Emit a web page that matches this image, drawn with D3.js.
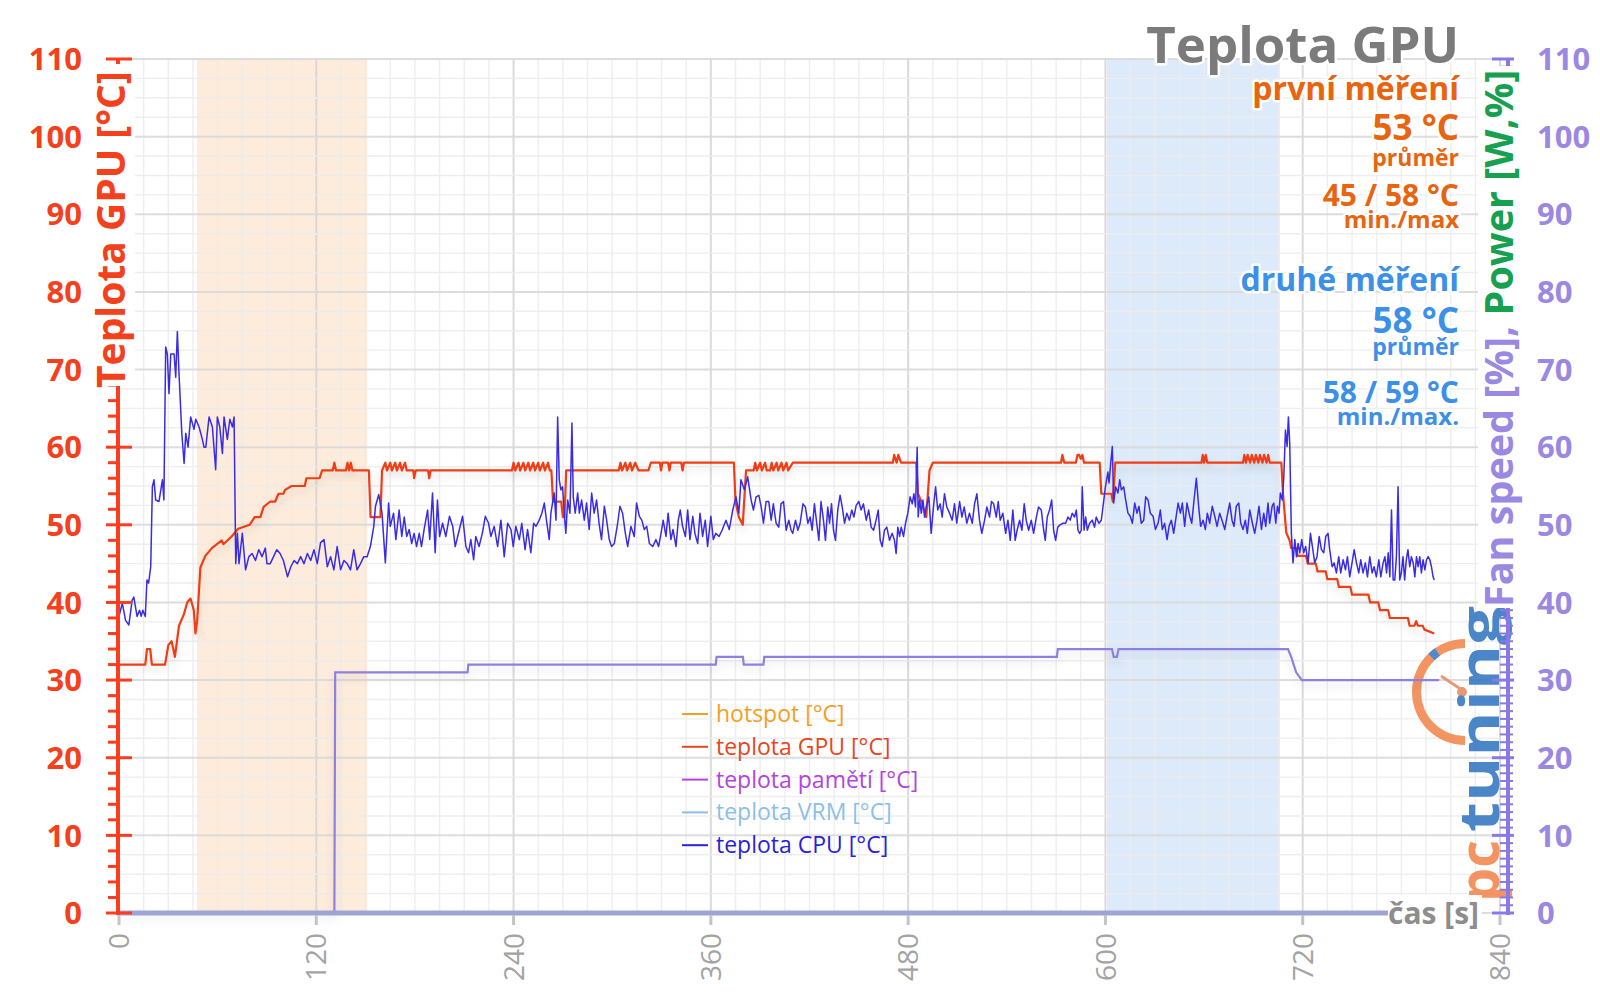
<!DOCTYPE html>
<html><head><meta charset="utf-8">
<script src="https://cdn.jsdelivr.net/npm/d3@7"></script>
<style>
html,body{margin:0;padding:0;background:#fff;}
text{font-family:"Open Sans","Noto Sans",sans-serif;}
.halo{paint-order:stroke;stroke:#fff;stroke-width:5px;stroke-linejoin:round;}
</style></head>
<body><svg id="c" width="1600" height="1008"></svg>
<script>
// ---------------- DATA ----------------
const xTicks = [0,120,240,360,480,600,720,840];
const yTicks = [0,10,20,30,40,50,60,70,80,90,100,110];
const bandFirst = [47.5,151];   // první měření (s)
const bandSecond = [601,706];   // druhé měření (s)

// teplota GPU [°C]  [time s, value]
const gpuTemp = [[0,32],[16,32],[17,34],[19,34],[20,32],[28,32],[30,34.5],[32,35],[34,33],[36.5,37],[39.5,38.5],[41.5,40],[43.5,40.5],[45.5,39],[46.5,36],[47.5,37.5],[49.5,44.5],[52.5,46],[56.5,47],[62.5,48],[63.5,47.5],[68.5,48.5],[72.5,49.5],[79.5,50],[82.5,51],[86,51],[88,52.3],[92,53],[95,53],[97,54],[100,54],[101,54.5],[105,55],[113,55],[114,56],[122,56],[123.5,57],[130,57],[131,58],[132,57],[138,57],[139,58],[140,57],[141,58],[142,57],[152,57],[153,51],[159,51],[160,57],[162,58],[163,57],[165,58],[166,57],[168,58],[169,57],[171,58],[172,57],[174,58],[175,57],[179,57],[179.5,56],[180.5,57],[188,57],[188.7,56],[189.5,57],[239,57],[240,58],[241,57],[243,58],[244,57],[246,58],[247,57],[249,58],[250,57],[252,58],[253,57],[255,58],[256,57],[258,58],[259,57],[261,58],[262,57],[263,57],[264,53],[269,53],[270,51],[271,51],[272,57],[304,57],[305,58],[306,57],[308,58],[309,57],[311,58],[312,57],[314,58],[316,57],[322,57],[323.5,58],[329,58],[329.7,57],[330.5,58],[334,58],[334.8,57],[335.6,58],[342,58],[342.8,57],[343.6,58],[374,58],[375,53],[377,51],[379.4,50],[381.4,57],[386,57],[387,58],[388,57],[390,58],[391,57],[393,58],[394,57],[396,57],[397,58],[398,57],[400,58],[401,57],[403,58],[404,57],[406,58],[407,57],[409.8,58],[470.7,58],[471.5,59],[473,58],[474,59],[475.7,58],[484.9,58],[486,54],[488,53],[491,51],[493,57],[495,58],[573,58],[573.8,59],[575,58],[582,58],[583,59],[584,59],[585,58.5],[586,59],[587,58],[596.5,58],[597.5,54],[603.6,54],[604.5,53],[606,58],[658.4,58],[659.2,59],[660,58],[661,59],[662,58],[683.7,58],[684.5,59],[685.5,58],[686.5,59],[688,58],[689,59],[690.5,58],[691.5,59],[693,58],[694,59],[695.5,58],[696.5,59],[698,58],[699,59],[700,58],[707,58],[708,54],[710,49],[712,48],[713,47],[716,47],[717,46],[722,46],[723,45],[728,45],[729,44],[734,44],[735,43],[741,43],[742,42],[749,42],[750,41],[760,41],[761,40],[766,40],[767,39],[772,39],[773,38],[784,38],[785,37],[788,37],[789,37.6],[790,37],[793,37],[794,36.5],[800,36]];

// teplota CPU [°C]  [time s, value]
const cpuTemp = [[0,38.2],[2,39.9],[4,37.7],[6,37.1],[8,40.3],[9,40.7],[11,38.2],[12.5,39],[13.5,38.2],[14.5,39],[16,38.2],[17,42.9],[18,42.5],[19.3,44.6],[20.3,54.9],[21.3,55.8],[22.3,53.2],[24.3,53],[26.4,55.8],[27.3,53.2],[28.4,72.9],[29.4,72],[30.4,66.9],[31.5,72],[33.5,72],[34.5,69],[35.5,74.9],[36.5,69.5],[38.2,61.8],[39.6,57.9],[40.6,61.8],[42,60],[43.6,63.9],[45.6,62.3],[46.7,63.6],[48.7,62.6],[50.7,61],[51.7,60],[52.8,60],[54.8,63.9],[56.8,62.6],[58.8,57.1],[59.8,63.9],[61.3,62.6],[62.9,59.2],[63.9,63.9],[65.9,61],[67.4,63.6],[69,62.6],[70,63.9],[71,45],[72,48.9],[73,45],[75,48.9],[77,44.2],[79,45.9],[81,46.3],[83,45.4],[85,46.8],[87,45.9],[89,47],[90,45],[92,45],[94,45.9],[96,46.8],[98,46.3],[100,45.4],[102.5,43.3],[104.5,44.6],[106.5,45.4],[108.5,45],[110.5,45.9],[112.5,45],[114.6,46.3],[116.6,45.4],[118.6,46.8],[120.6,45],[122.6,47.7],[124.7,48.1],[126.7,44.6],[128.7,45.9],[130.7,44.2],[132.7,47.2],[134.8,44.2],[136.8,45.4],[138.8,45],[140.8,44.2],[142.8,46.8],[144.8,44.2],[146.9,45],[148.9,45.9],[150.9,45.9],[152.9,47.2],[154.9,49.7],[156,52.4],[158,53.9],[160,51.5],[162,45.1],[164,52.8],[165,49.8],[167,51.5],[168.4,48.1],[170.4,51.9],[172,48.5],[173.5,51],[175,48.5],[176.5,49.4],[178,47.6],[179.5,48.9],[181,47.2],[182.6,48.9],[184,47.2],[185.6,49.4],[187.7,51.9],[189,48.1],[190.7,54.1],[192.3,46.4],[193.7,53.2],[195,48.5],[196.8,50.2],[198.8,48.5],[201,51.1],[203,49.8],[204.5,47.2],[206,48.5],[209,51.1],[211,47.2],[212.6,46.4],[214,48.1],[215.7,45.5],[217,48.5],[219,47.2],[221,48.9],[222.8,51.1],[224.8,50.2],[226.2,48.5],[228.2,49.8],[230.3,47.2],[232.3,50.6],[234.3,45.9],[236.4,50.2],[238.4,49.4],[239.8,47.2],[241.4,49.8],[243.5,48.1],[245,50.2],[247,46.8],[248.5,49.4],[250.5,46.4],[252.2,50.2],[253.6,49.8],[255.6,50.6],[257.2,51.5],[258.7,52.8],[260,50.6],[261.7,48.1],[262.7,51.5],[264.7,54.1],[265.8,50.6],[266.8,63.9],[267.8,55.8],[268.8,54.5],[269.8,54.9],[270.8,51.5],[271.8,48.9],[272.9,53.2],[274.3,51.5],[275.5,63.1],[276.3,53.6],[277.5,51.5],[279,54.1],[280,51.5],[281.4,53.2],[283,50.6],[284.4,52.8],[286,49.4],[287.5,54.1],[289,51.5],[290.5,53.2],[292,50.2],[293.5,48.1],[295.2,52.4],[296.6,50.6],[298.2,48.1],[299.6,47.2],[301.3,47.6],[303.3,50.2],[304.7,52.4],[306.3,51.5],[308,48.9],[309.4,47.2],[311.4,49.8],[313.4,48.5],[314.8,52.8],[316.5,51.1],[318,50.6],[319.5,49.4],[321,49.8],[322.6,47.6],[324.6,47.2],[326.6,48.1],[328.2,47.2],[329.7,48.9],[331,50.6],[332.7,48.5],[334,51.5],[335.7,48.1],[337,49.4],[338.8,47.2],[340.2,50.6],[341.4,51.9],[342.8,49.8],[344.5,48.5],[345.9,51.9],[347.3,48.1],[349,51.1],[350.3,48.9],[352,47.6],[353.4,51.5],[355,48.5],[356.6,50.6],[358,47.2],[360,51.1],[361.5,48.1],[363,48.9],[365,48.5],[367,49.4],[369.2,50.6],[371.2,49.4],[373.3,51.9],[375.3,53.6],[377,51.5],[378.3,55.8],[380.4,54.5],[382.4,56.2],[383,55.3],[384.5,53.2],[385.9,51.9],[387.5,53.6],[389.2,53.8],[390.6,52.3],[392,50.2],[393.6,53],[395.2,53],[396.7,50.6],[398,52.7],[399.7,50.2],[401.3,49.7],[402.7,52.7],[404.2,53],[405.8,49.3],[407.4,50.6],[408.8,49.3],[409.8,48.9],[411.5,50.6],[412.9,49.3],[414.3,50.2],[416,52.7],[417.5,52.3],[419,50.2],[420.4,51],[421.6,49.3],[423,52.7],[424.4,50.2],[425.7,48],[427,53],[428.5,50.6],[429.7,48],[431.1,52.3],[432.2,50.2],[433.4,52.7],[434.6,49.3],[435.8,48],[437.2,51.9],[438.6,53.8],[439.9,52.3],[441.3,50.2],[442.7,51.5],[444.3,50.6],[445.7,51.9],[447,51],[448.4,52.5],[450,53],[451.4,51.9],[452.8,52.7],[454.5,50.6],[456,51.9],[457.5,49.7],[459,49.3],[460.5,50.6],[461.8,51.9],[463,48],[464.2,47.2],[465.6,49.3],[467,49.7],[468.7,48],[470.3,48.9],[471.7,48],[472.7,46.3],[473.7,49.7],[474.8,48.5],[475.8,49.7],[477.2,48.5],[478.4,50.2],[479.8,51.5],[481.2,53.6],[482.5,52.7],[483.5,54],[484.5,52.3],[485.5,60],[486.1,51],[487,53.2],[488,51.5],[489,53.2],[490,51],[491,52.3],[492.6,53.6],[494,48.9],[495.4,52.3],[496.7,54.9],[498,51.9],[499.5,52.7],[500.7,51],[502.1,54],[503.5,52.3],[505.2,51.5],[506.8,50.6],[508.2,52.7],[509.6,50.2],[511.3,53],[512.7,51],[514.1,52.3],[515.7,50.2],[517.3,51.5],[519,50.2],[520.4,52.7],[521.8,54],[523.4,50.6],[524.8,48.9],[526.5,50.6],[527.9,52.3],[529.5,51],[530.7,53],[532,52.7],[533.6,51],[534.8,53],[536,50.6],[537.6,51.5],[539.3,48.9],[540.7,50.6],[542.1,48],[543.7,51.9],[545.1,48],[546.3,49.3],[547.8,50.6],[549.2,49.3],[550.6,52.7],[551.8,50.6],[553.3,49.3],[554.9,50.6],[556.3,48.9],[558,51],[559.3,52.3],[561,51.9],[562.2,49.7],[563.4,48],[564.6,51],[566,51.9],[567.3,53.2],[568.5,49.3],[569.7,48],[571,49.7],[572.5,50],[574.1,50.2],[575.8,50.2],[577.2,51],[578.6,50.6],[579.8,51.5],[581.2,51],[582.3,51.9],[583.3,49.3],[584.3,48.9],[585.3,49.3],[585.9,54.9],[587,49.3],[588,51],[589,49.3],[590.4,50.2],[592,50.6],[593.4,49.7],[594.4,51],[596,50.2],[597.5,50.6],[598.5,52.3],[600,54.9],[601.5,56.8],[602.2,55.4],[603.2,57.9],[604.2,60.1],[605,52.8],[606.2,54.9],[607.6,54.1],[608.7,55.8],[609.7,54.5],[611.1,54.9],[612.3,53.2],[613.7,51.5],[615.1,51.1],[616.4,50.2],[617.8,52.8],[619.2,51.5],[620.4,52.4],[621.8,50.2],[623.3,50.6],[624.5,53.6],[625.9,53.2],[627.3,51.5],[629,51.1],[630.4,49.4],[632,50.2],[633.4,51.9],[634.6,49.4],[636,50.2],[637.5,48.1],[638.7,49.8],[640.1,50.6],[641.5,48.9],[642.7,50.6],[644.2,52.8],[645.6,51.5],[646.8,52.8],[648.2,49.8],[649.6,52.8],[651.3,51.1],[652.5,50.2],[653.9,53.2],[655.3,56],[656.7,52.4],[657.9,49.8],[659.4,50.6],[660.8,49.4],[662,51.5],[663.4,50.2],[665,52.4],[666.5,51.1],[667.9,49.8],[669.5,51.5],[670.9,50.6],[672.6,49.4],[674,51.1],[675.6,52.8],[677,50.6],[678.2,49.8],[679.6,52.4],[681.1,52.8],[682.3,50.2],[683.7,49.4],[685.1,50.6],[686.3,48.9],[687.8,51.9],[689.4,50.2],[690.8,48.9],[692.2,50.6],[693.4,52.4],[694.9,49.4],[696.3,51.5],[697.5,49.8],[698.9,52.8],[699.9,50.2],[701.4,52.4],[702.4,52.8],[703.6,50.2],[704.6,52.4],[705.6,51.5],[706.4,54.1],[707.6,53.2],[708.5,56.2],[709.5,62.2],[710.5,60.1],[711.3,63.9],[712.1,60.5],[713.1,48.9],[714.1,45.1],[715.2,48.1],[716.2,45.9],[717.2,47.6],[718.2,46.4],[719.4,48.1],[720.6,46.4],[721.8,47.2],[723.3,45.1],[724.7,48.9],[725.9,47.2],[727.3,45.1],[728.7,45.9],[730,48.5],[731.4,46.8],[732.8,46.4],[734,48.5],[735.4,48.9],[736.4,46.8],[737.9,44.6],[739.1,45.1],[740.5,43.8],[741.9,45.9],[743.1,43.8],[744.6,45.5],[746,44.2],[747.2,45.9],[748.6,43.3],[750,45.1],[751.3,46.8],[752.7,45.1],[754.1,43.8],[755.3,45.5],[756.7,43.8],[758.1,45.1],[759.4,43.3],[760.8,45.9],[762.2,43.8],[763.4,44.6],[764.8,43.3],[766.3,45.5],[767.5,43.3],[768.9,45.1],[770,45.9],[771,43.8],[772,46.4],[773,43.3],[774,51.9],[775,42.9],[776,42.9],[777,45.9],[778,54.9],[779,42.9],[780,43.8],[781,45.9],[782,42.9],[783,45.5],[784,46.8],[785.1,44.6],[786.1,45.9],[787.2,45.1],[788.2,43.3],[789.2,45.9],[790.2,44.6],[791.2,45.9],[792.2,43.8],[793.2,45.5],[794.3,44.2],[795.3,45.5],[796.3,45.9],[797.3,45.5],[798.3,44.6],[799.3,43.3],[800,42.9]];

// Fan speed [%] (right axis)  [time s, value]
const fanSpeed = [[0,0],[131,0],[131.5,31],[212,31],[212.5,32],[363,32],[363.5,33],[379.5,33],[380,32],[392,32],[392.5,33],[570.5,33],[571,34],[604,34],[605,33],[607,33],[608,34],[711,34],[713,33],[716,31],[719.5,30],[803,30]];

const legendLabels = ["hotspot [°C]","teplota GPU [°C]","teplota pamětí [°C]","teplota VRM [°C]","teplota CPU [°C]"];
const legendColors = ["#f2a01e","#e8461e","#b444e0","#8cbfe8","#2a1ee0"];

const summaryFirst = ["první měření","53 °C","průměr","45 / 58 °C","min./max"];
const summarySecond = ["druhé měření","58 °C","průměr","58 / 59 °C","min./max."];

// ---------------- CHART ----------------
const svg = d3.select("#c");
const x = d3.scaleLinear().domain([0,840]).range([119,1500]);
const y = d3.scaleLinear().domain([0,110]).range([913,59]);
const y2 = d3.scaleLinear().domain([0,110]).range([913,59]);

const defs = svg.append("defs");
const f = defs.append("filter").attr("id","sh").attr("x","-5%").attr("y","-20%").attr("width","110%").attr("height","150%");
f.append("feDropShadow").attr("dx",0).attr("dy",5).attr("stdDeviation",4).attr("flood-color","#000").attr("flood-opacity",0.13);

// bands
svg.append("rect").attr("x",x(bandFirst[0])).attr("y",y(110)).attr("width",x(bandFirst[1])-x(bandFirst[0])).attr("height",y(0)-y(110)).attr("fill","#fdebdb");
svg.append("rect").attr("x",x(bandSecond[0])).attr("y",y(110)).attr("width",x(bandSecond[1])-x(bandSecond[0])).attr("height",y(0)-y(110)).attr("fill","#dceafa");

// grid
const g = svg.append("g");
g.selectAll(".vm").data(d3.range(0,841,15)).join("line")
 .attr("x1",d=>x(d)).attr("x2",d=>x(d)).attr("y1",y(110)).attr("y2",y(0))
 .attr("stroke",d=>d%120===0?"#d6d6d6":"#ececec").attr("stroke-width",d=>d%120===0?2:1.4).attr("stroke-opacity",0.9);
g.selectAll(".hm").data(d3.range(0,110.01,2.5)).join("line")
 .attr("x1",x(0)).attr("x2",x(840)).attr("y1",d=>y(d)).attr("y2",d=>y(d))
 .attr("stroke",d=>d%10===0?"#d9d9d9":"#ececec").attr("stroke-width",d=>d%10===0?2:1.4).attr("stroke-opacity",0.9);

// logo
const lg = svg.append("g").attr("opacity",0.92);
const cx = 1465, cy = 692;
lg.append("path").attr("transform",`translate(${cx},${cy})`)
  .attr("d", d3.arc()({innerRadius:44,outerRadius:53,startAngle:Math.PI,endAngle:2*Math.PI}))
  .attr("fill","#f28c55");
lg.append("path").attr("transform",`translate(${cx},${cy})`)
  .attr("d", d3.arc()({innerRadius:44,outerRadius:53,startAngle:5.52,endAngle:5.68}))
  .attr("fill","#3f7fc6");
lg.append("line").attr("x1",cx).attr("y1",cy).attr("x2",cx-24).attr("y2",cy-16).attr("stroke","#e8906a").attr("stroke-width",3);
lg.append("circle").attr("cx",cx-3).attr("cy",cy).attr("r",5).attr("fill","#e8906a");
lg.append("text").attr("transform","translate(1499,832) rotate(-90)").attr("font-size",56).attr("font-weight",700)
  .attr("fill","#3c7cc4").attr("textLength",226).attr("lengthAdjust","spacingAndGlyphs").text("tuning");
lg.append("text").attr("transform","translate(1499,902) rotate(-90)").attr("font-size",56).attr("font-weight",700)
  .attr("fill","#f28c55").attr("textLength",62).attr("lengthAdjust","spacingAndGlyphs").text("pc");

// series
const line = d3.line().x(d=>x(d[0])).y(d=>y(d[1]));
const line2 = d3.line().x(d=>x(d[0])).y(d=>y2(d[1]));
svg.append("path").datum(fanSpeed).attr("d",line2).attr("fill","none").attr("stroke","#8f80e0").attr("stroke-width",2.2).attr("filter","url(#sh)");
svg.append("path").datum(gpuTemp).attr("d",line).attr("fill","none").attr("stroke","#f03c14").attr("stroke-width",2.2).attr("stroke-linejoin","round").attr("filter","url(#sh)");
svg.append("path").datum(cpuTemp).attr("d",line).attr("fill","none").attr("stroke","#3a2ce6").attr("stroke-width",1.5).attr("stroke-linejoin","round");

// x axis
svg.append("line").attr("x1",117).attr("x2",1390).attr("y1",y(0)).attr("y2",y(0)).attr("stroke","#9ea5d6").attr("stroke-width",5);
svg.selectAll(".xt").data(xTicks).join("line").attr("x1",d=>x(d)).attr("x2",d=>x(d)).attr("y1",y(0)+2).attr("y2",y(0)+12)
  .attr("stroke","#c4c4c4").attr("stroke-width",3);
svg.selectAll(".xl").data(xTicks).join("text")
  .attr("transform",d=>`translate(${x(d)},${y(0)+20}) rotate(-90)`)
  .attr("text-anchor","end").attr("dy","0.36em").attr("font-size",28).attr("fill","#a3a3a3").text(d=>d);
svg.append("rect").attr("x",1388).attr("y",895).attr("width",94).attr("height",36).attr("fill","#fff");
svg.append("text").attr("x",1388).attr("y",924).attr("font-size",30).attr("font-weight",700).attr("fill","#8d8d8d").text("čas [s]");

// left axis
const la = svg.append("g");
la.append("line").attr("x1",118).attr("x2",118).attr("y1",y(0)+2).attr("y2",y(110)).attr("stroke","#ff3c1e").attr("stroke-width",4);
la.selectAll(".mi").data(d3.range(0,110.01,2).filter(d=>d%10!==0)).join("line")
  .attr("x1",108).attr("x2",118).attr("y1",d=>y(d)).attr("y2",d=>y(d)).attr("stroke","#ff3c1e").attr("stroke-width",3);
la.selectAll(".ma").data(yTicks).join("line")
  .attr("x1",106).attr("x2",132).attr("y1",d=>y(d)).attr("y2",d=>y(d)).attr("stroke","#ff3c1e").attr("stroke-width",3);
la.selectAll(".lb").data(yTicks).join("text").attr("x",82).attr("y",d=>y(d)).attr("dy","0.36em").attr("text-anchor","end")
  .attr("font-size",31).attr("font-weight",700).attr("fill","#f5401c").text(d=>d);
svg.append("rect").attr("x",95).attr("y",64).attr("width",40).attr("height",322).attr("fill","#fff");
svg.append("text").attr("transform","translate(125,388) rotate(-90)").attr("font-size",39).attr("font-weight",700)
  .attr("fill","#f5401c").attr("class","halo").text("Teplota GPU [°C]");

// right axis
const ra = svg.append("g");
ra.append("line").attr("x1",1508).attr("x2",1508).attr("y1",y2(0)+2).attr("y2",y2(110)).attr("stroke","#8a78e6").attr("stroke-width",4);
ra.selectAll(".mi").data(d3.range(0,110.01,1).filter(d=>d%10!==0)).join("line")
  .attr("x1",1500).attr("x2",1513).attr("y1",d=>y2(d)).attr("y2",d=>y2(d)).attr("stroke","#8a78e6").attr("stroke-width",2);
ra.selectAll(".ma").data(yTicks).join("line")
  .attr("x1",1492).attr("x2",1514).attr("y1",d=>y2(d)).attr("y2",d=>y2(d)).attr("stroke","#8a78e6").attr("stroke-width",3);
ra.selectAll(".lb").data(yTicks).join("text").attr("x",1537).attr("y",d=>y2(d)).attr("dy","0.36em")
  .attr("font-size",31).attr("font-weight",700).attr("fill","#9a88e2").text(d=>d);
svg.append("rect").attr("x",1478).attr("y",66).attr("width",48).attr("height",542).attr("fill","#fff");
const rt = svg.append("text").attr("transform","translate(1513,607) rotate(-90)").attr("font-size",39.5).attr("font-weight",700).attr("class","halo");
rt.append("tspan").attr("fill","#9a88e2").text("Fan speed [%], ");
rt.append("tspan").attr("fill","#17a050").text("Power [W,%]");

// title & summary
svg.append("text").attr("x",1459).attr("y",63).attr("text-anchor","end").attr("font-size",51).attr("font-weight",700)
  .attr("fill","#7b7b7b").attr("class","halo").text("Teplota GPU");
const sizes = [32,35,23,30,24];
const ysFirst = [100,140,166,206,228];
const ysSecond = [291,333,355,403,425];
summaryFirst.forEach((s,i)=>svg.append("text").attr("x",1459).attr("y",ysFirst[i]).attr("text-anchor","end")
  .attr("font-size",sizes[i]).attr("font-weight",700).attr("fill","#e8640e").attr("class","halo").text(s));
summarySecond.forEach((s,i)=>svg.append("text").attr("x",1459).attr("y",ysSecond[i]).attr("text-anchor","end")
  .attr("font-size",sizes[i]).attr("font-weight",700).attr("fill","#3c90e8").attr("class","halo").text(s));

// legend
const leg = svg.append("g");
legendLabels.forEach((l,i)=>{
  const yy = 714 + i*32.8;
  leg.append("line").attr("x1",682).attr("x2",708).attr("y1",yy).attr("y2",yy).attr("stroke",legendColors[i]).attr("stroke-width",2);
  leg.append("text").attr("x",716).attr("y",yy).attr("dy","0.35em").attr("font-size",23).attr("fill",legendColors[i]).text(l);
});
</script></body></html>
